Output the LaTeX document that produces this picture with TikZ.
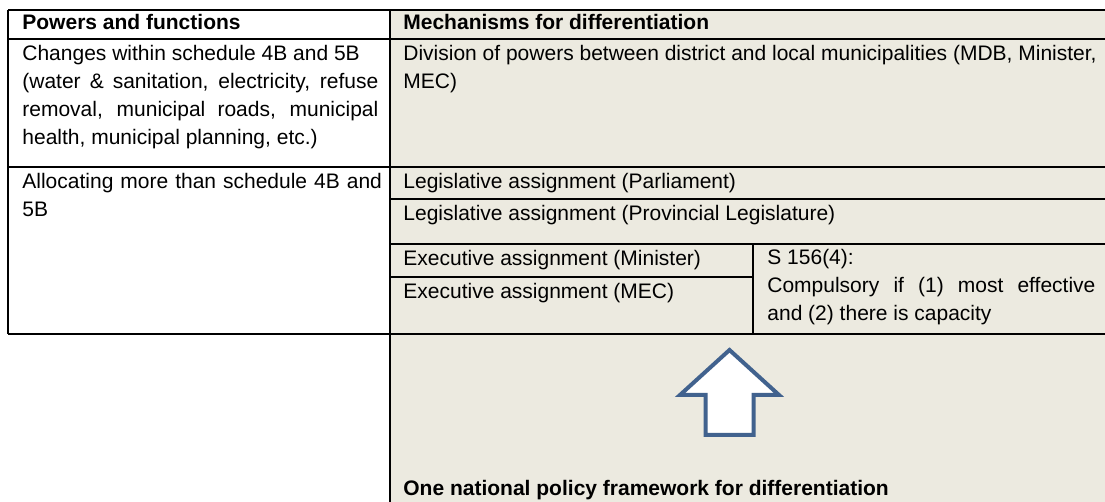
\documentclass[tikz,border=0pt]{standalone}
\usepackage{fontspec}
\setmainfont{Liberation Sans}
\definecolor{cellfill}{RGB}{236,234,224}
\definecolor{arrowblue}{RGB}{65,98,142}
\begin{document}
\begin{tikzpicture}[x=0.500000pt,y=-0.500000pt,
  celltext/.style={anchor=base west,inner sep=0pt,font=\fontsize{10.5}{14}\selectfont},
  headtext/.style={celltext,font=\fontsize{10.5}{14}\selectfont\bfseries},
  gridline/.style={color=black,line width=0.7pt}]
\useasboundingbox (0.000000, 0.000000) rectangle (1105.000000, 502.000000);
\filldraw[color=white] (0.000000, 0.000000) rectangle (1105.000000, 502.000000);
% Drawing cell fills
\fill[cellfill] (390.000000, 10.000000) rectangle (1105.000000, 502.000000);
% Done with fills; drawing rules
\draw[gridline] (8.000000,10.000000) -- (1105.000000,10.000000);
\draw[gridline] (8.000000,39.000000) -- (1105.000000,39.000000);
\draw[gridline] (8.000000,167.000000) -- (1105.000000,167.000000);
\draw[gridline] (390.000000,199.000000) -- (1105.000000,199.000000);
\draw[gridline] (390.000000,244.000000) -- (1105.000000,244.000000);
\draw[gridline] (390.000000,277.000000) -- (753.000000,277.000000);
\draw[gridline] (8.000000,334.000000) -- (1105.000000,334.000000);
\draw[gridline] (8.000000,10.000000) -- (8.000000,334.000000);
\draw[gridline] (390.000000,10.000000) -- (390.000000,502.000000);
\draw[gridline] (753.000000,244.000000) -- (753.000000,334.000000);
% Done with rules; drawing texts
% Header row
\node[headtext] (hdpow) at (22.000000, 30.000000) {Powers and functions};
\node[headtext] (hdmech) at (403.000000, 30.000000) {Mechanisms for differentiation};
% Row 1: within schedule
\node[celltext,text width=178pt,align=justify] (chg) at (22.000000, 60.500000)
  {Changes within schedule 4B and 5B\\(water \& sanitation, electricity, refuse\linebreak removal, municipal roads, municipal\linebreak health, municipal planning, etc.)};
% (no text width here: the base is the last line)
\node[celltext,align=left] (divis) at (403.000000, 88.500000)
  {Division of powers between district and local municipalities (MDB, Minister,\\MEC)};
% Row 2: more than schedule
\node[celltext,text width=182pt,align=left] (alloc) at (22.000000, 188.500000)
  {Allocating more than schedule 4B and\\5B};
\node[celltext] (legparl) at (403.000000, 188.500000) {Legislative assignment (Parliament)};
\node[celltext] (legprov) at (403.000000, 220.500000) {Legislative assignment (Provincial Legislature)};
\node[celltext] (exmin) at (403.000000, 265.500000) {Executive assignment (Minister)};
\node[celltext] (exmec) at (403.000000, 298.500000) {Executive assignment (MEC)};
\node[celltext,text width=164pt,align=justify] (s156) at (767.000000, 265.000000)
  {S 156(4):\\Compulsory if (1) most effective\linebreak and (2) there is capacity};
% Done with texts; drawing the arrow
\draw[color=arrowblue,fill=white,line width=2pt,line join=miter]
  (729.500000,350.000000) -- (779.000000,395.000000) -- (753.500000,395.000000)
  -- (753.500000,435.000000) -- (705.500000,435.000000) -- (705.500000,395.000000)
  -- (680.000000,395.000000) -- cycle;
\node[headtext] (frame) at (403.000000, 495.500000) {One national policy framework for differentiation};
% Done with the arrow
\end{tikzpicture}
\end{document}
